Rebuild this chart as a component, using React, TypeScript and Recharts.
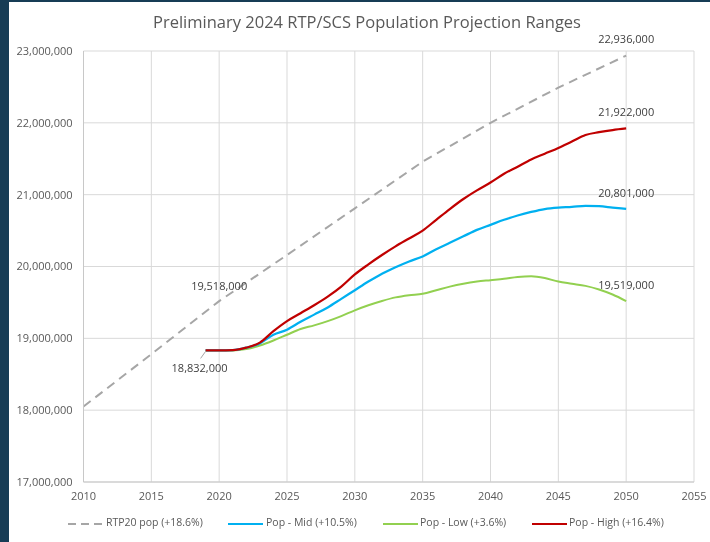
import React from "react"
import { LineChart, Line, XAxis, YAxis, CartesianGrid } from "recharts"

// RTP20 forecast, read at 5-year points
const rtpYears = [2010, 2015, 2020, 2025, 2030, 2035, 2040, 2045, 2050]
const rtpPop = [18050000, 18780000, 19518000, 20160000, 20810000, 21460000, 22000000, 22490000, 22936000]

// 2024 projection ranges, yearly from 2019
const projYears = [
  2019, 2020, 2021, 2022, 2023, 2024, 2025, 2026, 2027, 2028,
  2029, 2030, 2031, 2032, 2033, 2034, 2035, 2036, 2037, 2038,
  2039, 2040, 2041, 2042, 2043, 2044, 2045, 2046, 2047, 2048,
  2049, 2050,
]
const popHigh = [
  18832000, 18832000, 18835000, 18870000, 18940000, 19100000, 19240000, 19350000, 19460000, 19580000,
  19720000, 19890000, 20030000, 20160000, 20280000, 20390000, 20500000, 20650000, 20800000, 20940000,
  21060000, 21170000, 21290000, 21390000, 21490000, 21570000, 21650000, 21740000, 21830000, 21870000,
  21900000, 21922000,
]
const popMid = [
  18832000, 18832000, 18835000, 18870000, 18930000, 19050000, 19120000, 19230000, 19330000, 19430000,
  19550000, 19670000, 19790000, 19900000, 19990000, 20070000, 20140000, 20240000, 20330000, 20420000,
  20510000, 20580000, 20650000, 20710000, 20760000, 20800000, 20820000, 20830000, 20845000, 20840000,
  20820000, 20801000,
]
const popLow = [
  18832000, 18832000, 18830000, 18850000, 18900000, 18970000, 19050000, 19130000, 19180000, 19240000,
  19310000, 19390000, 19460000, 19520000, 19570000, 19600000, 19620000, 19670000, 19720000, 19760000,
  19790000, 19810000, 19830000, 19855000, 19865000, 19840000, 19790000, 19760000, 19730000, 19680000,
  19610000, 19519000,
]

const xTicks = [2010, 2015, 2020, 2025, 2030, 2035, 2040, 2045, 2050, 2055]
const yTicks = [17000000, 18000000, 19000000, 20000000, 21000000, 22000000, 23000000]

const rtpData = rtpYears.map((year, i) => ({ year, pop: rtpPop[i] }))
const highData = projYears.map((year, i) => ({ year, pop: popHigh[i] }))
const midData = projYears.map((year, i) => ({ year, pop: popMid[i] }))
const lowData = projYears.map((year, i) => ({ year, pop: popLow[i] }))

const FONT = "'Open Sans', sans-serif"
const fmt = (v: number) => v.toLocaleString("en-US")

// legend entries, with x of sample and text inside the white panel
const legendItems = [
  { name: "RTP20 pop (+18.6%)", color: "#a6a6a6", dashed: true, x: 59, tx: 97 },
  { name: "Pop - Mid (+10.5%)", color: "#00b0f0", dashed: false, x: 219, tx: 257 },
  { name: "Pop - Low (+3.6%)", color: "#92d050", dashed: false, x: 374, tx: 411 },
  { name: "Pop - High (+16.4%)", color: "#c00000", dashed: false, x: 523, tx: 560 },
]

// data label drawn above chosen points
function makeLabel(indexes: number[], offsets: { [k: number]: [number, number] }) {
  return (props: any) => {
    const { x, y, value, index } = props
    if (!indexes.includes(index)) return null
    const [dx, dy] = offsets[index] || [0, -12]
    return (
      <text
        key={`lbl-${index}`}
        x={x + dx}
        y={y + dy}
        textAnchor="middle"
        fill="#404040"
        fontSize={11}
        fontFamily={FONT}
      >
        {fmt(value)}
      </text>
    )
  }
}

const lastProj = projYears.length - 1

export default function App() {
  return (
    <div
      style={{
        position: "fixed",
        left: 0,
        top: 0,
        width: 710,
        height: 542,
        background: "#173c55",
        fontFamily: FONT,
      }}
    >
      <div
        style={{
          position: "absolute",
          left: 9,
          top: 2,
          width: 701,
          height: 540,
          background: "#ffffff",
        }}
      >
        <div
          style={{
            position: "absolute",
            left: 0,
            top: 8,
            width: 716,
            textAlign: "center",
            fontSize: 16.5,
            color: "#595959",
          }}
        >
          Preliminary 2024 RTP/SCS Population Projection Ranges
        </div>

        <LineChart
          width={701}
          height={540}
          margin={{ top: 49, right: 16, bottom: 30, left: 0 }}
          style={{ position: "absolute", left: 0, top: 0 }}
        >
          <CartesianGrid stroke="#d9d9d9" strokeWidth={1} />
          <XAxis
            dataKey="year"
            type="number"
            domain={[2010, 2055]}
            ticks={xTicks}
            tickLine={false}
            axisLine={{ stroke: "#c8c8c8" }}
            tick={{ fill: "#595959", fontSize: 11, fontFamily: FONT }}
            tickMargin={4}
            height={30}
            allowDuplicatedCategory={false}
          />
          <YAxis
            type="number"
            domain={[17000000, 23000000]}
            ticks={yTicks}
            tickFormatter={fmt}
            tickLine={false}
            axisLine={{ stroke: "#c8c8c8" }}
            tick={{ fill: "#595959", fontSize: 11, fontFamily: FONT }}
            tickMargin={5}
            width={74.5}
          />
          <Line
            data={rtpData}
            dataKey="pop"
            stroke="#a6a6a6"
            strokeWidth={2}
            strokeDasharray="9 6"
            dot={false}
            type="linear"
            isAnimationActive={false}
            label={makeLabel([2, rtpYears.length - 1], { 2: [0, -11], 8: [0, -13] })}
          />
          <Line
            data={lowData}
            dataKey="pop"
            stroke="#92d050"
            strokeWidth={2}
            dot={false}
            type="monotone"
            isAnimationActive={false}
            label={makeLabel([lastProj], {})}
          />
          <Line
            data={midData}
            dataKey="pop"
            stroke="#00b0f0"
            strokeWidth={2.25}
            dot={false}
            type="monotone"
            isAnimationActive={false}
            label={makeLabel([lastProj], {})}
          />
          <Line
            data={highData}
            dataKey="pop"
            stroke="#c00000"
            strokeWidth={2.25}
            dot={false}
            type="monotone"
            isAnimationActive={false}
            label={(props: any) => {
              const { x, y, value, index } = props
              if (index === 0) {
                return (
                  <g key="lbl-start">
                    <line x1={x} y1={y + 1} x2={x - 5} y2={y + 8} stroke="#a6a6a6" strokeWidth={1} />
                    <text x={x - 6} y={y + 22} textAnchor="middle" fill="#404040" fontSize={11} fontFamily={FONT}>
                      {fmt(value)}
                    </text>
                  </g>
                )
              }
              if (index === lastProj) {
                return (
                  <text key="lbl-end" x={x} y={y - 12} textAnchor="middle" fill="#404040" fontSize={11} fontFamily={FONT}>
                    {fmt(value)}
                  </text>
                )
              }
              return null
            }}
          />
        </LineChart>

        {legendItems.map((item) => (
          <React.Fragment key={item.name}>
            <svg width={35} height={6} style={{ position: "absolute", left: item.x, top: 519 }}>
              <line
                x1={0}
                y1={3}
                x2={35}
                y2={3}
                stroke={item.color}
                strokeWidth={2}
                strokeDasharray={item.dashed ? "8 5" : undefined}
              />
            </svg>
            <span
              style={{
                position: "absolute",
                left: item.tx,
                top: 513,
                fontSize: 10.5,
                color: "#595959",
                whiteSpace: "nowrap",
              }}
            >
              {item.name}
            </span>
          </React.Fragment>
        ))}
      </div>
    </div>
  )
}
